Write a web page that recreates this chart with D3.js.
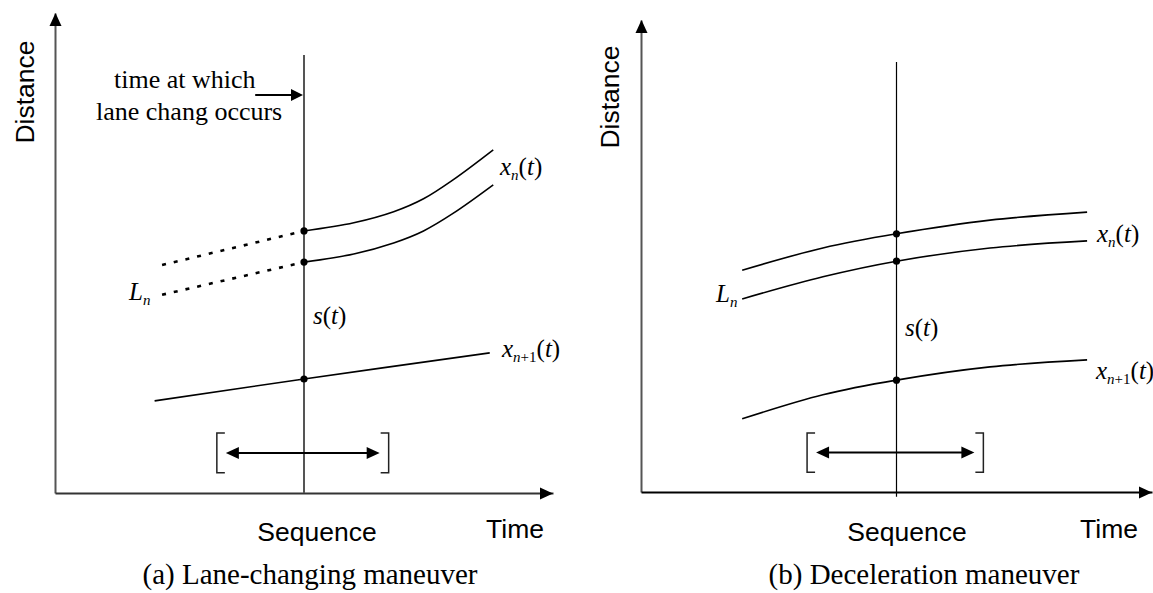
<!DOCTYPE html>
<html>
<head>
<meta charset="utf-8">
<script src="https://cdn.jsdelivr.net/npm/d3@7"></script>
<style>
  body { margin: 0; background: #fff; }
  svg { display: block; }
  .sans { font-family: "Liberation Sans", Arial, sans-serif; }
  .serif { font-family: "Liberation Serif", "Times New Roman", serif; }
</style>
</head>
<body>
<div id="chart"></div>
<script>
// ---- data (time and distance in arbitrary 0-100 units) ----
var sequenceTime = 50;
var windowTime = [32.5, 67];
var windowDist = [4.2, 12.5];

// (a) lane-changing maneuver
var aLeadTime = [50, 60, 68, 74, 80, 88];
var aLeadUpper = [54.6, 56.3, 58.6, 61.3, 65.3, 71.5];
var aLeadLower = [48.1, 49.8, 52.1, 54.6, 58.3, 64.2];
var aDotTime = [21.5, 50];
var aDotUpper = [47.5, 54.6];
var aDotLower = [41.3, 48.1];
var aFollowTime = [20, 50, 87.3];
var aFollow = [19.2, 23.75, 29.2];

// (b) deceleration maneuver
var bTime = [19.8, 35.6, 50, 68.3, 87.3];
var bLeadUpper = [47.0, 51.7, 54.7, 57.6, 59.3];
var bLeadLower = [40.9, 45.6, 48.9, 51.7, 53.2];
var bFollow = [15.5, 20.6, 23.7, 26.5, 28.0];

var axisTitles = ["Time", "Distance", "Sequence"];
var captions = ["(a) Lane-changing maneuver", "(b) Deceleration maneuver"];
var noteLines = ["time at which", "lane chang occurs"];

var W = 1153, H = 593;
var svg = d3.select("#chart").append("svg")
    .attr("width", W)
    .attr("height", H);

function zip(ts, ds) {
    return ts.map(function(t, i) { return [t, ds[i]]; });
}

// filled triangle pointing in direction (dx,dy) with tip at (x,y)
function arrowHead(g, x, y, dx, dy, len, half) {
    var bx = x - dx * len, by = y - dy * len;
    var px = -dy * half, py = dx * half;
    g.append("path")
        .attr("d", "M" + x + "," + y + "L" + (bx + px) + "," + (by + py) +
                   "L" + (bx - px) + "," + (by - py) + "Z")
        .attr("fill", "#000");
}

function mathLabel(g, x, y, base, sub, subUpright) {
    var t = g.append("text")
        .attr("class", "serif")
        .attr("x", x).attr("y", y)
        .attr("font-size", 25);
    t.append("tspan").attr("font-style", "italic").text(base);
    if (sub) {
        t.append("tspan").attr("font-style", "italic")
            .attr("font-size", 15).attr("dy", 5).text(sub);
        if (subUpright) {
            t.append("tspan").attr("font-size", 15).text(subUpright);
        }
        t.append("tspan").attr("dy", -5).text("(");
    } else {
        t.append("tspan").text("(");
    }
    t.append("tspan").attr("font-style", "italic").text("t");
    t.append("tspan").text(")");
}

function drawPanel(p) {
    var g = svg.append("g");
    var x = d3.scaleLinear().domain([0, 100]).range(p.xr);
    var y = d3.scaleLinear().domain([0, 100]).range(p.yr);

    // axes without ticks
    var yAxis = d3.axisLeft(y).tickValues([]).tickSizeOuter(0);
    var xAxis = d3.axisBottom(x).tickValues([]).tickSizeOuter(0);
    g.append("g")
        .attr("transform", "translate(" + x(0) + ",0)")
        .call(yAxis)
        .select(".domain").attr("stroke", "#555").attr("stroke-width", 2);
    g.append("g")
        .attr("transform", "translate(0," + y(0) + ")")
        .call(xAxis)
        .select(".domain").attr("stroke", p.xAxisColor).attr("stroke-width", 2);
    arrowHead(g, x(0) + 0.5, y(100), 0, -1, 13, 6);
    arrowHead(g, x(100), y(0) + 0.5, 1, 0, 13, 6);

    // sequence line
    g.append("line")
        .attr("x1", x(sequenceTime)).attr("x2", x(sequenceTime))
        .attr("y1", y(p.seqTop)).attr("y2", y(p.seqBottom))
        .attr("stroke", p.seqColor).attr("stroke-width", p.seqWidth);

    var line = d3.line()
        .x(function(d) { return x(d[0]); })
        .y(function(d) { return y(d[1]); })
        .curve(d3.curveCatmullRom.alpha(0.5));

    p.solid.forEach(function(s) {
        g.append("path").datum(s).attr("d", line)
            .attr("fill", "none").attr("stroke", "#000").attr("stroke-width", 1.6);
    });
    (p.dotted || []).forEach(function(s) {
        g.append("path").datum(s).attr("d", line)
            .attr("fill", "none").attr("stroke", "#000").attr("stroke-width", 2.6)
            .attr("stroke-dasharray", "4,8");
    });

    g.selectAll("circle.pt").data(p.points).enter().append("circle")
        .attr("class", "pt")
        .attr("cx", function(d) { return x(sequenceTime); })
        .attr("cy", function(d) { return y(d); })
        .attr("r", 3.6).attr("fill", "#000");

    // sequence window bracket
    var bl = x(windowTime[0]), br = x(windowTime[1]);
    var bt = y(windowDist[1]), bb = y(windowDist[0]);
    var bm = (bt + bb) / 2;
    var bw = 8;
    g.append("path")
        .attr("d", "M" + (bl + bw) + "," + bt + "H" + bl + "V" + bb + "H" + (bl + bw))
        .attr("fill", "none").attr("stroke", "#222").attr("stroke-width", 1.5);
    g.append("path")
        .attr("d", "M" + (br - bw) + "," + bt + "H" + br + "V" + bb + "H" + (br - bw))
        .attr("fill", "none").attr("stroke", "#222").attr("stroke-width", 1.5);
    g.append("line")
        .attr("x1", bl + 12).attr("x2", br - 12)
        .attr("y1", bm).attr("y2", bm)
        .attr("stroke", "#000").attr("stroke-width", 2);
    arrowHead(g, bl + 9, bm, -1, 0, 13, 6);
    arrowHead(g, br - 9, bm, 1, 0, 13, 6);

    // axis titles
    g.append("text").attr("class", "sans")
        .attr("transform", "translate(" + p.distX + "," + p.distY + ") rotate(-90)")
        .attr("text-anchor", "middle").attr("font-size", 26.5)
        .text(axisTitles[1]);
    g.append("text").attr("class", "sans")
        .attr("x", p.seqLabelX).attr("y", 541)
        .attr("text-anchor", "middle").attr("font-size", 26.5)
        .text(axisTitles[2]);
    g.append("text").attr("class", "sans")
        .attr("x", p.timeX).attr("y", 538)
        .attr("text-anchor", "end").attr("font-size", 26.5)
        .text(axisTitles[0]);
    g.append("text").attr("class", "serif")
        .attr("x", p.capX).attr("y", 584)
        .attr("text-anchor", "middle").attr("font-size", 29)
        .text(p.caption);

    // curve labels
    mathLabel(g, p.lab.xn[0], p.lab.xn[1], "x", "n");
    mathLabel(g, p.lab.xn1[0], p.lab.xn1[1], "x", "n", "+1");
    mathLabel(g, p.lab.s[0], p.lab.s[1], "s");
    var ln = g.append("text").attr("class", "serif")
        .attr("x", p.lab.L[0]).attr("y", p.lab.L[1])
        .attr("font-size", 25).attr("font-style", "italic");
    ln.append("tspan").text("L");
    ln.append("tspan").attr("font-size", 15).attr("dy", 5).text("n");

    return {g: g, x: x, y: y};
}

var left = drawPanel({
    xr: [55, 553], yr: [493, 13],
    xAxisColor: "#333", seqColor: "#555", seqWidth: 2,
    seqTop: 91.25, seqBottom: 0,
    solid: [zip(aLeadTime, aLeadUpper), zip(aLeadTime, aLeadLower), zip(aFollowTime, aFollow)],
    dotted: [zip(aDotTime, aDotUpper), zip(aDotTime, aDotLower)],
    points: [aLeadUpper[0], aLeadLower[0], aFollow[1]],
    distX: 34, distY: 92, seqLabelX: 317, timeX: 544, capX: 310,
    caption: captions[0],
    lab: {xn: [500, 175], xn1: [502, 357], s: [313, 324], L: [129, 300]}
});

// annotation for the lane-change time
var note = left.g.append("text").attr("class", "serif").attr("font-size", 26);
note.append("tspan").attr("x", 114).attr("y", 88).text(noteLines[0]);
note.append("tspan").attr("x", 96).attr("y", 120).text(noteLines[1]);
left.g.append("line")
    .attr("x1", left.x(40.2)).attr("x2", left.x(sequenceTime) - 10)
    .attr("y1", left.y(82.9)).attr("y2", left.y(82.9))
    .attr("stroke", "#000").attr("stroke-width", 2);
arrowHead(left.g, left.x(sequenceTime) - 1, left.y(82.9), 1, 0, 12, 6);

drawPanel({
    xr: [641, 1152], yr: [492, 20],
    xAxisColor: "#000", seqColor: "#000", seqWidth: 1.2,
    seqTop: 91.1, seqBottom: -1,
    solid: [zip(bTime, bLeadUpper), zip(bTime, bLeadLower), zip(bTime, bFollow)],
    points: [bLeadUpper[2], bLeadLower[2], bFollow[2]],
    distX: 619, distY: 97, seqLabelX: 907, timeX: 1138, capX: 924,
    caption: captions[1],
    lab: {xn: [1097, 242], xn1: [1096, 379], s: [905, 336], L: [716, 302]}
});
</script>
</body>
</html>
